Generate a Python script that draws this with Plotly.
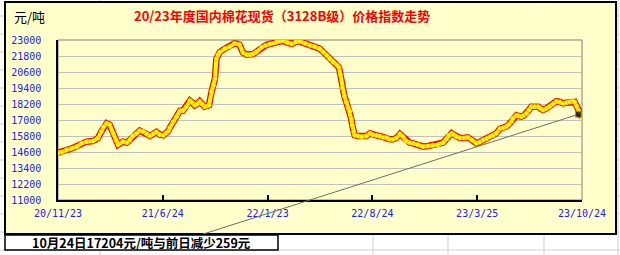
import plotly.graph_objects as go

# ---------------- data ----------------
dates = [
    "2020-11-23", "2020-12-01", "2020-12-10", "2020-12-20", "2020-12-31",
    "2021-01-10", "2021-01-20", "2021-02-02", "2021-02-12", "2021-02-19",
    "2021-02-24", "2021-03-02", "2021-03-08", "2021-03-15", "2021-03-21",
    "2021-03-25", "2021-04-04", "2021-04-12", "2021-04-18", "2021-04-24",
    "2021-05-02", "2021-05-08", "2021-05-15", "2021-05-22", "2021-05-29",
    "2021-06-04", "2021-06-11", "2021-06-18", "2021-06-25", "2021-06-30",
    "2021-07-05", "2021-07-08", "2021-07-15", "2021-07-22", "2021-07-29",
    "2021-08-04", "2021-08-11", "2021-08-18", "2021-08-23", "2021-08-28",
    "2021-09-02", "2021-09-07", "2021-09-12", "2021-09-17", "2021-09-22",
    "2021-09-26", "2021-10-01", "2021-10-05", "2021-10-08", "2021-10-11",
    "2021-10-14", "2021-10-18", "2021-10-28", "2021-11-07", "2021-11-17",
    "2021-11-27", "2021-12-04", "2021-12-11", "2021-12-18", "2021-12-24",
    "2021-12-31", "2022-01-11", "2022-01-19", "2022-01-28", "2022-02-10",
    "2022-02-23", "2022-03-05", "2022-03-13", "2022-03-21", "2022-03-29",
    "2022-04-09", "2022-04-19", "2022-04-29", "2022-05-09", "2022-05-16",
    "2022-05-23", "2022-05-29", "2022-06-05", "2022-06-13", "2022-06-17",
    "2022-06-20", "2022-06-24", "2022-06-28", "2022-07-02", "2022-07-06",
    "2022-07-09", "2022-07-12", "2022-07-14", "2022-07-17", "2022-07-19",
    "2022-07-26", "2022-08-02", "2022-08-12", "2022-08-19", "2022-08-25",
    "2022-09-01", "2022-09-08", "2022-09-15", "2022-09-22", "2022-09-28",
    "2022-10-05", "2022-10-12", "2022-10-19", "2022-10-25", "2022-11-01",
    "2022-11-08", "2022-11-15", "2022-11-24", "2022-12-05", "2022-12-15",
    "2022-12-25", "2023-01-04", "2023-01-15", "2023-01-22", "2023-01-26",
    "2023-02-01", "2023-02-05", "2023-02-11", "2023-02-18", "2023-02-26",
    "2023-03-06", "2023-03-14", "2023-03-23", "2023-03-30", "2023-04-06",
    "2023-04-13", "2023-04-20", "2023-04-26", "2023-05-03", "2023-05-10",
    "2023-05-17", "2023-05-23", "2023-05-28", "2023-06-03", "2023-06-05",
    "2023-06-13", "2023-06-17", "2023-06-23", "2023-06-28", "2023-07-03",
    "2023-07-08", "2023-07-13", "2023-07-20", "2023-07-27", "2023-08-01",
    "2023-08-06", "2023-08-12", "2023-08-19", "2023-08-26", "2023-09-02",
    "2023-09-09", "2023-09-16", "2023-09-22", "2023-09-29", "2023-10-05",
    "2023-10-09", "2023-10-13", "2023-10-17", "2023-10-23", "2023-10-24",
]
prices = [
    14550, 14600, 14750, 14850, 15000,
    15250, 15375, 15425, 15625, 16125,
    16500, 16750, 16650, 16000, 15500,
    15150, 15375, 15300, 15500, 15800,
    16000, 16200, 16125, 15950, 15800,
    15950, 16100, 15900, 15850, 16000,
    16150, 16400, 16875, 17250, 17700,
    17700, 18000, 18450, 18300, 18100,
    18200, 18400, 18200, 18000, 18050,
    18100, 19100, 19600, 20100, 21600,
    21900, 22100, 22350, 22500, 22750,
    22650, 22050, 21900, 21900, 21950,
    22100, 22450, 22600, 22700, 22850,
    22950, 22800, 22700, 22850, 22900,
    22750, 22600, 22500, 22350, 22100,
    21850, 21600, 21350, 21100, 20950,
    20400, 19400, 18800, 18350, 17900,
    17650, 17100, 16600, 16100, 15850,
    15800, 15750, 15800, 16000, 15900,
    15850, 15800, 15700, 15650, 15550,
    15550, 15650, 15950, 15750, 15400,
    15300, 15250, 15150, 15000, 15050,
    15100, 15150, 15300, 15600, 15850,
    16000, 15900, 15750, 15650, 15650,
    15700, 15500, 15250, 15350, 15500,
    15600, 15750, 15850, 16000, 16350,
    16400, 16500, 16650, 16900, 17100,
    17350, 17300, 17250, 17350, 17500,
    17750, 18000, 18000, 18000, 17850,
    17750, 17850, 18000, 18200, 18400,
    18350, 18250, 18300, 18350, 18400,
    18350, 18050, 17700, 17463, 17204,
]

trend_dates = ["2021-06-11", "2023-10-17"]
trend_values = [7325, 17430]

x_tick_dates = ["2020-11-23", "2021-06-24", "2022-01-23", "2022-08-24", "2023-03-25", "2023-10-24"]
x_tick_labels = ["20/11/23", "21/6/24", "22/1/23", "22/8/24", "23/3/25", "23/10/24"]
y_tick_values = [11000, 12200, 13400, 14600, 15800, 17000, 18200, 19400, 20600, 21800, 23000]
y_range = [11000, 23000]
y2_bottom = 8450

title_text = "20/23年度国内棉花现货（3128B级）价格指数走势"
unit_text = "元/吨"
note_text = "10月24日17204元/吨与前日减少259元"

# ---------------- layout helpers ----------------
W, H = 620, 255
L, R, T, B = 58, 38, 40, 21
PW, PH = W - L - R, H - T - B


def px(x):
    return (x - L) / PW


def py(y):
    return (H - B - y) / PH


fig = go.Figure()

# trend line (unclipped helper axes)
fig.add_trace(go.Scatter(
    x=trend_dates, y=trend_values, xaxis="x2", yaxis="y2",
    mode="lines+markers", line=dict(color="#6e6e6e", width=1),
    marker=dict(symbol="square", size=[0, 6], color="black"),
    hoverinfo="skip",
))

fig.add_trace(go.Scatter(
    x=dates, y=prices, mode="lines",
    line=dict(color="#ff0000", width=6.5),
    hoverinfo="skip",
))
fig.add_trace(go.Scatter(
    x=dates, y=prices, mode="lines+markers",
    line=dict(color="#ffff00", width=4),
    marker=dict(size=4.5, color="#ffff00", line=dict(color="#e0b000", width=0.6)),
    hoverinfo="skip",
))

tick_font = dict(family="DejaVu Sans Mono", size=10, color="#2020ff")

shapes = []
grid_col = "#d0d0d0"
for yy in [16, 34, 52, 70, 88, 106, 124, 142, 160, 178, 196, 214, 232, 250]:
    shapes.append(dict(type="line", xref="paper", yref="paper", x0=px(0), x1=px(W),
                       y0=py(yy), y1=py(yy), line=dict(color=grid_col, width=1), layer="below"))
for xx in [100, 373, 448, 544, 618]:
    shapes.append(dict(type="line", xref="paper", yref="paper", x0=px(xx), x1=px(xx),
                       y0=py(0), y1=py(H), line=dict(color=grid_col, width=1), layer="below"))
# chart area
shapes.append(dict(type="rect", xref="paper", yref="paper", x0=px(5), x1=px(616),
                   y0=py(234), y1=py(2), fillcolor="#ffffcc",
                   line=dict(color="black", width=2), layer="below"))
# plot-area border
shapes.append(dict(type="rect", xref="x domain", yref="y domain", x0=0, x1=1, y0=0, y1=1,
                   line=dict(color="#808080", width=1), layer="below"))
# note box
shapes.append(dict(type="rect", xref="paper", yref="paper", x0=px(5), x1=px(278),
                   y0=py(250), y1=py(235), fillcolor="white",
                   line=dict(color="black", width=1.5), layer="above"))

annotations = [
    dict(text="<b>" + title_text + "</b>", xref="paper", yref="paper", x=px(282), y=py(15),
         xanchor="center", yanchor="middle", showarrow=False,
         font=dict(family="Noto Sans CJK SC", size=13, color="#ff0000")),
    dict(text=unit_text, xref="paper", yref="paper", x=px(29), y=py(17),
         xanchor="center", yanchor="middle", showarrow=False,
         font=dict(family="Noto Sans CJK SC", size=13, color="black")),
    dict(text="<b>" + note_text + "</b>", xref="paper", yref="paper", x=px(141), y=py(242.5),
         xanchor="center", yanchor="middle", showarrow=False,
         font=dict(family="Noto Sans CJK SC", size=12.5, color="black")),
]

fig.update_layout(
    width=W, height=H,
    margin=dict(l=L, r=R, t=T, b=B, pad=0),
    paper_bgcolor="white",
    plot_bgcolor="rgba(0,0,0,0)",
    showlegend=False,
    shapes=shapes,
    annotations=annotations,
    xaxis=dict(
        type="date", range=[x_tick_dates[0], x_tick_dates[-1]],
        domain=[0, 1], anchor="y",
        tickmode="array", tickvals=x_tick_dates, ticktext=x_tick_labels,
        ticks="inside", ticklen=5, tickwidth=1.5, tickcolor="black",
        showline=True, linecolor="black", linewidth=2,
        showgrid=False, zeroline=False, tickfont=tick_font,
        ticklabelstandoff=3,
    ),
    yaxis=dict(
        range=y_range, domain=[py(200), 1], anchor="x",
        tickmode="array", tickvals=y_tick_values,
        ticktext=[str(v) for v in y_tick_values],
        ticks="", showline=True, linecolor="black", linewidth=1.5,
        showgrid=True, gridcolor="#c0c0c0", gridwidth=1,
        zeroline=False, tickfont=tick_font, ticklabelstandoff=13,
    ),
    xaxis2=dict(
        type="date", range=[x_tick_dates[0], x_tick_dates[-1]],
        domain=[0, 1], anchor="y2", visible=False,
    ),
    yaxis2=dict(
        range=[y2_bottom, y_range[1]], domain=[0, 1], anchor="x2", visible=False,
    ),
)

fig.write_html("out.html")
